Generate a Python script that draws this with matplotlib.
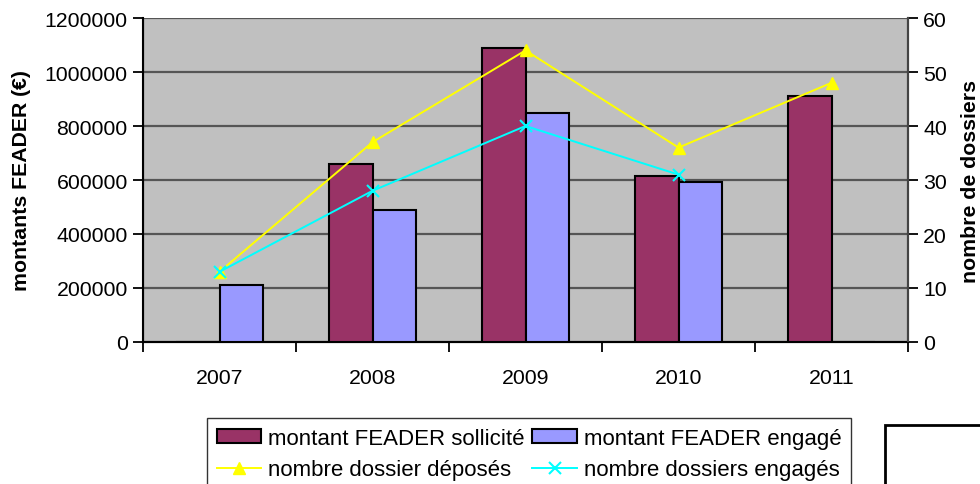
import numpy as np
import matplotlib
matplotlib.use("Agg")
import matplotlib.pyplot as plt
from matplotlib.patches import Rectangle
from matplotlib.ticker import MultipleLocator, FixedLocator, FuncFormatter

plt.rcParams['font.family'] = ['Liberation Sans', 'DejaVu Sans']

# data
years = ["2007", "2008", "2009", "2010", "2011"]
montant_sollicite = [0, 660000, 1090000, 615000, 910000]
montant_engage = [210000, 490000, 850000, 592000, 0]
dossiers_deposes = [13, 37, 54, 36, 48]
dossiers_engages = [13, 28, 40, 31, np.nan]

fs = 15.3
fig = plt.figure(figsize=(9.8, 4.85), dpi=100)
ax = fig.add_axes([143/980, 1-343/485, (908-143)/980, (343-19)/485])
ax.set_facecolor("#C0C0C0")

x = np.arange(len(years))
w = 0.285
b1 = ax.bar(x - w/2, montant_sollicite, w, color="#993366", edgecolor="black", lw=1.5, zorder=3,
            label="montant FEADER sollicité")
b2 = ax.bar(x + w/2, montant_engage, w, color="#9999FF", edgecolor="black", lw=1.5, zorder=3,
            label="montant FEADER engagé")

ax.set_xlim(-0.5, len(years) - 0.5)
ax.set_ylim(0, 1200000)
ax.yaxis.set_major_locator(MultipleLocator(200000))
ax.yaxis.set_major_formatter(FuncFormatter(lambda v, p: "%d" % v))
ax.grid(axis="y", color="#555555", lw=1.6, zorder=1)
ax.set_axisbelow(True)

# category boundaries as ticks, labels in the middle
ax.xaxis.set_major_locator(FixedLocator(np.arange(-0.5, len(years), 1.0)))
ax.xaxis.set_major_formatter(FuncFormatter(lambda v, p: ""))
ax.set_xticks(x, years, minor=True)
ax.tick_params(axis="x", which="major", length=7, width=1.3, direction="out")
ax.tick_params(axis="x", which="minor", length=0, pad=18.5, labelsize=fs)
ax.tick_params(axis="y", length=7, width=1.3, labelsize=fs, pad=4)

ax.spines["top"].set_visible(False)
for s in ["left", "bottom", "right"]:
    ax.spines[s].set_linewidth(1.5)
    ax.spines[s].set_color("black")

ax.set_ylabel("montants FEADER (€)", fontsize=fs, fontweight="bold")
ax.yaxis.set_label_coords(-0.147, 0.5)

ax2 = ax.twinx()
ax2.set_ylim(0, 60)
ax2.yaxis.set_major_locator(MultipleLocator(10))
ax2.tick_params(axis="y", length=7, width=1.3, labelsize=fs, pad=4)
ax2.spines["top"].set_visible(False)
ax2.spines["right"].set_linewidth(1.5)
ax2.spines["right"].set_color("#444444")
l1, = ax2.plot(x, dossiers_deposes, color="#FFFF00", lw=1.4, marker="^", ms=9,
               label="nombre dossier déposés", zorder=4)
l2, = ax2.plot(x, dossiers_engages, color="#00FFFF", lw=1.4, marker="x", ms=9, mew=1.5,
               label="nombre dossiers engagés", zorder=4)
ax2.set_ylabel("nombre de dossiers", fontsize=fs, fontweight="bold", rotation=90)
ax2.yaxis.set_label_coords(1.069, 0.5)

# legend filled row by row like the reference
handles = [b1, l1, b2, l2]
leg = fig.legend(handles, [h.get_label() for h in handles],
                 ncol=2, loc="upper left", bbox_to_anchor=(207/980, 1-419/485),
                 fontsize=16, frameon=True, fancybox=False, edgecolor="black",
                 handlelength=2.0, handleheight=0.55, columnspacing=0.35, handletextpad=0.3,
                 labelspacing=0.45, borderpad=0.45, borderaxespad=0)
leg.get_frame().set_linewidth(1.0)

# empty box at the bottom right
fig.add_artist(Rectangle((885/980, -0.1), 0.3, (1-426/485) + 0.1, transform=fig.transFigure,
                         fill=False, edgecolor="black", lw=2))

fig.savefig("out.png", dpi=100)
